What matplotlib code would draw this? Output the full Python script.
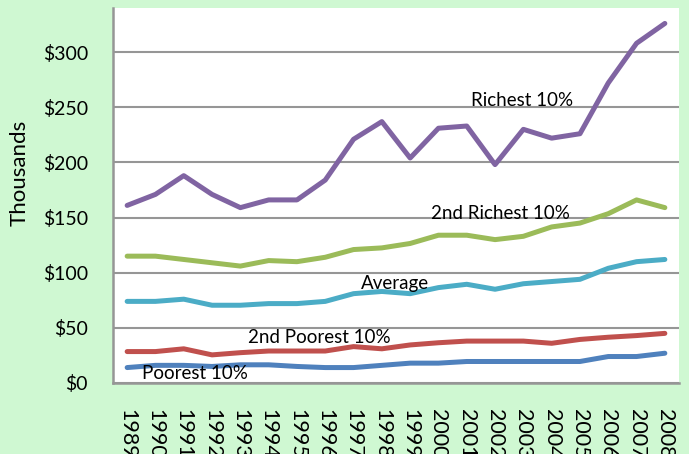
import matplotlib
matplotlib.use("Agg")
import matplotlib.pyplot as plt

years = [str(y) for y in range(1989, 2009)]
richest = [161, 171, 188, 171, 159, 166, 166, 184, 221, 237, 204, 231, 233, 198, 230, 222, 226, 272, 308, 326]
second_richest = [115, 115, 112, 109, 106, 111, 110, 114, 121, 122.5, 126.5, 134, 134, 130, 133, 141.5, 145, 153.5, 166, 159]
average = [74, 74, 76, 70.5, 70.5, 72, 72, 74, 81, 83, 81, 86.5, 89.5, 85, 90, 92, 94, 104, 110, 112]
second_poorest = [28.5, 28.5, 31, 25.5, 27.5, 29, 29, 29, 33, 31, 34.5, 36.5, 38, 38, 38, 36, 39.5, 41.5, 43, 45]
poorest = [14, 16, 16, 15, 16.5, 16.5, 15, 14, 14, 16, 18, 18, 19.5, 19.5, 19.5, 19.5, 19.5, 24, 24, 27]

series = [
    ("Richest 10%", richest, "#8064A2"),
    ("2nd Richest 10%", second_richest, "#9BBB59"),
    ("Average", average, "#4BACC6"),
    ("2nd Poorest 10%", second_poorest, "#C0504D"),
    ("Poorest 10%", poorest, "#4F81BD"),
]
# label positions (category index, value)
label_pos = {
    "Richest 10%": (13.95, 256),
    "2nd Richest 10%": (13.2, 154),
    "Average": (9.45, 90.5),
    "2nd Poorest 10%": (6.8, 41),
    "Poorest 10%": (2.4, 9),
}
yticks = [0, 50, 100, 150, 200, 250, 300]
ytick_labels = ["$0", "$50", "$100", "$150", "$200", "$250", "$300"]

plt.rcParams['font.family'] = ['Lato', 'DejaVu Sans']
bg = "#CFF8D2"
fig = plt.figure(figsize=(6.89, 4.54), dpi=100, facecolor=bg)
ax = fig.add_axes([113/689, 1-383/454, (679-113)/689, (383-8)/454])
ax.set_facecolor("white")

x = list(range(len(years)))
for name, vals, col in series:
    ax.plot(x, vals, color=col, lw=3.6, solid_capstyle='round', solid_joinstyle='round', zorder=3)
    lx, ly = label_pos[name]
    ax.text(lx, ly, name, fontsize=13.5, ha='center', va='center', color='black', zorder=4)

ax.set_xlim(-0.5, 19.5)
ax.set_ylim(0, 340)
ax.set_yticks(yticks)
ax.set_yticklabels(ytick_labels, fontsize=14)
ax.set_xticks(x)
ax.set_xticklabels(years, fontsize=15.5, rotation=-90, va='top', ha='center')
ax.tick_params(axis='both', length=0)
ax.tick_params(axis='y', pad=18)
ax.tick_params(axis='x', pad=19)
ax.yaxis.grid(True, color='#969696', lw=1.5, zorder=1)
ax.set_axisbelow(True)
for s in ['top', 'right']:
    ax.spines[s].set_visible(False)
for s in ['left', 'bottom']:
    ax.spines[s].set_color('#969696')
    ax.spines[s].set_linewidth(1.8)

fig.text(20/689, 1-173/454, "Thousands", rotation=90, fontsize=16, ha='center', va='center')

fig.savefig("out.png", dpi=100, facecolor=bg)
